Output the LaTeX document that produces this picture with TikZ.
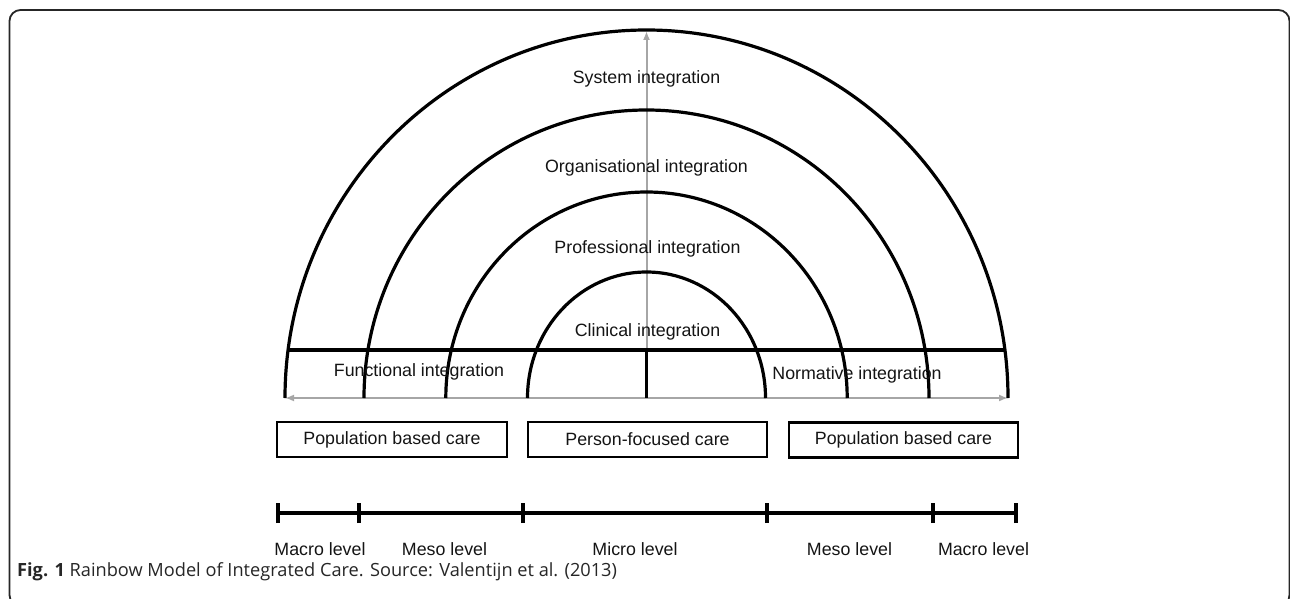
\documentclass[tikz,border=0pt]{standalone}
\usepackage{fontspec}
\setmainfont{Liberation Sans}
\newfontfamily\capfont{Open Sans}
\usetikzlibrary{arrows.meta}
\begin{document}
\begin{tikzpicture}[x=1pt,y=-1pt,
  lbl/.style={inner sep=0pt, font=\fontsize{17.8}{20}\selectfont, text=black!92},
  carebox/.style={draw, line width=2.3pt, minimum height=35pt, inner sep=0pt,
    font=\fontsize{17.8}{20}\selectfont, text=black!92},
  arcline/.style={line width=3.2pt},
  barline/.style={line width=3.2pt},
  grayline/.style={draw=black!35, line width=2pt},
]
\clip (0,0) rectangle (1290,599);
\useasboundingbox (0,0) rectangle (1290,599);
% frame
\draw[line width=1.8pt, black!85, rounded corners=11pt] (9.5,10) rectangle (1289.5,606);

% gray axes
\coordinate (O) at (646.5,398);
\coordinate (gl) at (285,398);
\coordinate (gr) at (1008,398);
\coordinate (gt) at (646.5,31);
\draw[grayline, {Latex[length=9pt,width=7pt]}-{Latex[length=9pt,width=7pt]}] (gl) -- (gr);
\draw[grayline, -{Latex[length=9pt,width=7pt]}] (O) -- (gt);

% rainbow arcs
\draw[arcline] (1008,398) arc[start angle=0, end angle=-180, x radius=361.5, y radius=368];
\draw[arcline] (929,398) arc[start angle=0, end angle=-180, x radius=282.5, y radius=288];
\draw[arcline] (847.2,398) arc[start angle=0, end angle=-180, x radius=200.7, y radius=206];
\draw[arcline] (765.5,398) arc[start angle=0, end angle=-180, x radius=119, y radius=126];

% base line and center divider
\coordinate (bl) at (287,350);
\coordinate (br) at (1006,350);
\coordinate (bc) at (646.5,350);
\draw[arcline] (bl) -- (br);
\draw[arcline] (bc) -- (O);

% labels
\node[lbl] (sys) at (646.5,79) {System integration};
\node[lbl] (org) at (646.5,168) {Organisational integration};
\node[lbl] (prof) at (647.5,249) {Professional integration};
\node[lbl] (clin) at (647.5,332) {Clinical integration};
\node[lbl] (func) at (419,372) {Functional integration};
\node[lbl] (norm) at (857,375) {Normative integration};

% care boxes
\node[carebox, minimum width=230pt] (popL) at (392,439.5) {Population based care};
\node[carebox, minimum width=239pt] (pers) at (647.5,439.5) {Person-focused care};
\node[carebox, minimum width=229pt] (popR) at (903.5,440) {Population based care};

% level scale bar
\coordinate (t1) at (278,513);
\coordinate (t2) at (359,513);
\coordinate (t3) at (523,513);
\coordinate (t4) at (767,513);
\coordinate (t5) at (933,513);
\coordinate (t6) at (1016,513);
\draw[barline] (t1) -- (t6);
\foreach \t in {t1,t2,t3,t4,t5,t6}{
  \draw[barline] ([yshift=-10pt]\t) -- ([yshift=10pt]\t);
}
\node[lbl] (macL) at (320,549) {Macro level};
\node[lbl] (mesL) at (444.5,549) {Meso level};
\node[lbl] (mic) at (635,549) {Micro level};
\node[lbl] (mesR) at (849.5,549) {Meso level};
\node[lbl] (macR) at (983.5,549) {Macro level};

% caption
\node[anchor=west, inner sep=0pt, font=\capfont\fontsize{18.2}{20}\selectfont, text=black!85] (cap) at (17,572)
  {\textbf{Fig. 1} Rainbow Model of Integrated Care. Source: Valentijn et al. (2013)};
\end{tikzpicture}
\end{document}
